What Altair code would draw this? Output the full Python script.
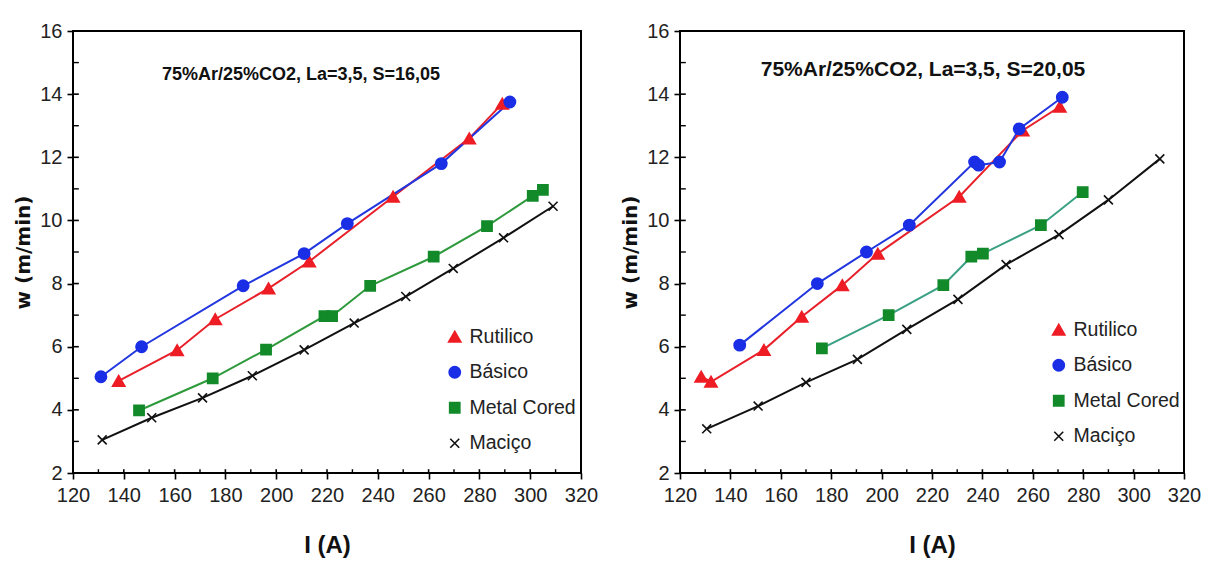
import altair as alt
import pandas as pd

# ---------------- data ----------------
SERIES = ["Rutilico", "Básico", "Metal Cored", "Maciço"]

# Left panel (S=16,05)
L_rut_I = [138, 161, 176, 197, 213, 246, 276, 289]
L_rut_w = [4.92, 5.89, 6.87, 7.85, 8.70, 10.75, 12.60, 13.70]
L_bas_I = [131, 147, 187, 211, 228, 265, 292]
L_bas_w = [5.05, 6.00, 7.93, 8.95, 9.90, 11.80, 13.75]
L_met_I = [146, 175, 196, 219, 222, 237, 262, 283, 301, 305]
L_met_w = [3.98, 5.00, 5.91, 6.97, 6.97, 7.93, 8.85, 9.82, 10.78, 10.97]
L_mac_I = [131.5, 151, 171, 190.6, 211, 230.7, 251, 269.7, 289.5, 309]
L_mac_w = [3.05, 3.75, 4.38, 5.08, 5.90, 6.75, 7.59, 8.48, 9.45, 10.45]

# Right panel (S=20,05)
R_rut_I = [128.4, 132.3, 153.3, 168.3, 184.4, 198.5, 230.8, 256, 270.7]
R_rut_w = [5.05, 4.89, 5.90, 6.95, 7.95, 8.95, 10.75, 12.85, 13.60]
R_bas_I = [143.7, 174.5, 194, 211, 236.9, 238.5, 246.8, 254.6, 271.7]
R_bas_w = [6.05, 8.00, 9.00, 9.85, 11.85, 11.75, 11.85, 12.90, 13.90]
R_met_I = [176.3, 202.8, 224.5, 235.6, 240.2, 263.2, 279.8]
R_met_w = [5.95, 7.00, 7.95, 8.85, 8.95, 9.85, 10.90]
R_mac_I = [130.6, 151, 170, 190.4, 210, 230.3, 249.4, 270.4, 290, 310.4]
R_mac_w = [3.40, 4.12, 4.87, 5.60, 6.55, 7.50, 8.60, 9.55, 10.65, 11.95]

TITLE_L = "75%Ar/25%CO2, La=3,5, S=16,05"
TITLE_R = "75%Ar/25%CO2, La=3,5, S=20,05"

X_MIN, X_MAX = 120, 320
Y_MIN, Y_MAX = 2, 16
X_MAJOR = list(range(120, 321, 20))
X_MINOR = list(range(130, 311, 20))
Y_MAJOR = list(range(2, 17, 2))
Y_MINOR = list(range(3, 16, 2))

# ---------------- styling ----------------
FONT = "Liberation Sans, Arial"
INK = "black"
MARK_FILL = ["#ee1c24", "#1a2ee6", "#128a2a", "transparent"]
MARK_STROKE = ["#ee1c24", "#1a2ee6", "#128a2a", "#111111"]
X_PATH = "M-1,-1L1,1M-1,1L1,-1"
SHAPES = ["triangle-up", "circle", "square", X_PATH]
SIZES = [150, 80, 144, 650]
H = 442


def build_df(groups):
    rows = []
    for name, xs, ys in groups:
        for k, (a, b) in enumerate(zip(xs, ys)):
            rows.append({"series": name, "I": a, "w": b, "k": k})
    return pd.DataFrame(rows)


def panel(df, title, line_colors, width, title_x, title_y, title_size,
          legend_x, legend_y):
    xscale = alt.Scale(domain=[X_MIN, X_MAX], nice=False, zero=False)
    yscale = alt.Scale(domain=[Y_MIN, Y_MAX], nice=False, zero=False)
    xaxis = alt.Axis(values=X_MAJOR, ticks=True, tickSize=6, tickColor=INK,
                     tickWidth=1.6, grid=False,
                     domain=False, labelFlush=False, labelOverlap=False,
                     labelFont=FONT, labelFontSize=20,
                     labelColor="#222222", labelPadding=6, titleFont=FONT,
                     titleFontSize=24, titleFontWeight="bold", titleColor="#111111",
                     titlePadding=28)
    yaxis = alt.Axis(values=Y_MAJOR, ticks=True, tickSize=6, tickColor=INK,
                     tickWidth=1.6, grid=False,
                     domain=False, labelFlush=False, labelOverlap=False,
                     labelFont=FONT, labelFontSize=20,
                     labelColor="#222222", labelPadding=5, titleFont="DejaVu Sans",
                     titleFontSize=20, titleFontWeight="bold", titleColor="#111111",
                     titlePadding=6)
    X = alt.X("I:Q", scale=xscale, axis=xaxis, title="I (A)")
    Y = alt.Y("w:Q", scale=yscale, axis=yaxis, title="w  (m/min)")

    lines = alt.Chart(df).mark_line(strokeWidth=2).encode(
        x=X, y=Y,
        color=alt.Color("series:N", scale=alt.Scale(domain=SERIES, range=line_colors),
                        legend=None),
        order="k:Q",
    )
    legend = alt.Legend(title=None, orient="none", legendX=legend_x, legendY=legend_y,
                        labelFont=FONT, labelFontSize=19.5, labelColor="#222222",
                        symbolStrokeWidth=1.6, rowPadding=14.5, labelOffset=5,
                        symbolOffset=0)
    points = alt.Chart(df).mark_point(strokeWidth=1.6, opacity=1, fillOpacity=1).encode(
        x=X, y=Y,
        shape=alt.Shape("series:N", scale=alt.Scale(domain=SERIES, range=SHAPES), legend=legend),
        fill=alt.Fill("series:N", scale=alt.Scale(domain=SERIES, range=MARK_FILL), legend=legend),
        stroke=alt.Stroke("series:N", scale=alt.Scale(domain=SERIES, range=MARK_STROKE), legend=legend),
        size=alt.Size("series:N", scale=alt.Scale(domain=SERIES, range=SIZES), legend=legend),
    )

    # inner parts of the tick marks (major ticks cross the frame, minor ticks point inward)
    xt_maj = pd.DataFrame({"I": X_MAJOR, "w": [Y_MIN] * len(X_MAJOR),
                           "w2": [Y_MIN + 0.12] * len(X_MAJOR)})
    xt_min = pd.DataFrame({"I": X_MINOR, "w": [Y_MIN] * len(X_MINOR),
                           "w2": [Y_MIN + 0.12] * len(X_MINOR)})
    yt_maj = pd.DataFrame({"w": Y_MAJOR, "I": [X_MIN] * len(Y_MAJOR),
                           "I2": [X_MIN + 2.3] * len(Y_MAJOR)})
    yt_min = pd.DataFrame({"w": Y_MINOR, "I": [X_MIN] * len(Y_MINOR),
                           "I2": [X_MIN + 2.3] * len(Y_MINOR)})
    xr1 = alt.Chart(xt_maj).mark_rule(stroke=INK, strokeWidth=1.6).encode(
        x=X, y=Y, y2="w2:Q")
    xr2 = alt.Chart(xt_min).mark_rule(stroke=INK, strokeWidth=1.4).encode(
        x=X, y=Y, y2="w2:Q")
    yr1 = alt.Chart(yt_maj).mark_rule(stroke=INK, strokeWidth=1.6).encode(
        x=X, x2="I2:Q", y=Y)
    yr2 = alt.Chart(yt_min).mark_rule(stroke=INK, strokeWidth=1.4).encode(
        x=X, x2="I2:Q", y=Y)

    frame = alt.Chart(pd.DataFrame({"t": [title]})).mark_rect(
        fill="white", fillOpacity=0, stroke=INK, strokeWidth=2, strokeOpacity=1).encode(
        x=alt.value(0), x2=alt.value(width), y=alt.value(0), y2=alt.value(H))

    ttl = alt.Chart(pd.DataFrame({"t": [title]})).mark_text(
        font=FONT, fontSize=title_size, fontWeight="bold", color="#111111",
        align="center", baseline="middle").encode(
        text="t:N", x=alt.value(title_x), y=alt.value(title_y))

    return alt.layer(lines, points, xr1, xr2, yr1, yr2, frame, ttl).properties(
        width=width, height=H
    ).resolve_scale(color="independent")


df_left = build_df([("Rutilico", L_rut_I, L_rut_w), ("Básico", L_bas_I, L_bas_w),
                    ("Metal Cored", L_met_I, L_met_w), ("Maciço", L_mac_I, L_mac_w)])
df_right = build_df([("Rutilico", R_rut_I, R_rut_w), ("Básico", R_bas_I, R_bas_w),
                     ("Metal Cored", R_met_I, R_met_w), ("Maciço", R_mac_I, R_mac_w)])

left = panel(df_left, TITLE_L, ["#e8202a", "#2236e0", "#2e9a3c", "#111111"],
             508, 228, 44, 18, 372, 296)
right = panel(df_right, TITLE_R, ["#e8202a", "#2236e0", "#3aa083", "#111111"],
              504, 243, 39, 21, 369, 289)

chart = alt.hconcat(left, right, spacing=20).resolve_scale(
    shape="independent", fill="independent", stroke="independent",
    size="independent", color="independent"
).resolve_legend(
    shape="independent", fill="independent", stroke="independent", size="independent"
).properties(
    padding={"left": 4, "top": 12, "right": 0, "bottom": 4}, background="white"
).configure_view(
    stroke=INK, strokeWidth=2
)

chart.save("out.html", embed_options={"renderer": "svg", "actions": False})
